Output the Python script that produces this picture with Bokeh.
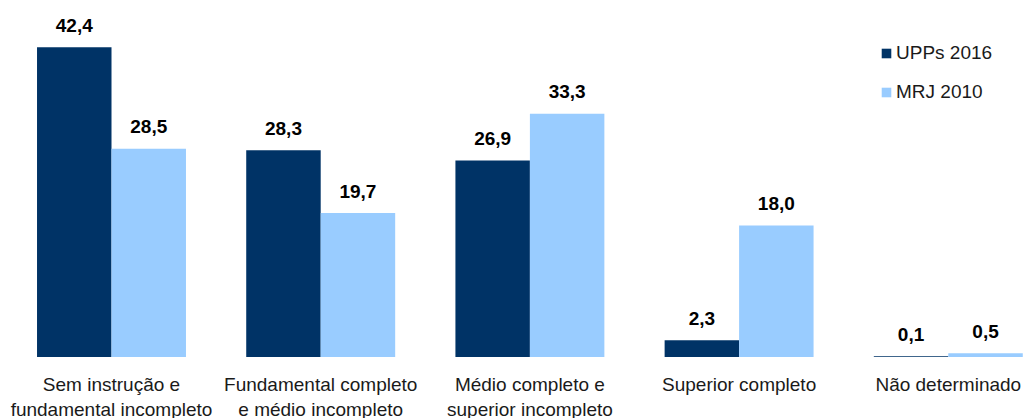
from bokeh.plotting import figure
from bokeh.models import ColumnDataSource, Legend, LegendItem, Range1d
from bokeh.core.properties import value
from bokeh.embed import file_html
from bokeh.resources import INLINE

categories = ["Sem instrução e\nfundamental incompleto",
              "Fundamental completo\ne médio incompleto",
              "Médio completo e\nsuperior incompleto",
              "Superior completo",
              "Não determinado"]
upps_2016 = [42.4, 28.3, 26.9, 2.3, 0.1]
mrj_2010 = [28.5, 19.7, 33.3, 18.0, 0.5]
series_names = ["UPPs 2016", "MRJ 2010"]
colors = ["#003366", "#99CCFF"]

FONT = "Liberation Sans"
W, H = 1027, 418
bw = 0.356

xs = list(range(len(categories)))
fmt = lambda v: f"{v:.1f}".replace(".", ",")

src1 = ColumnDataSource(dict(x=[i - bw / 2 for i in xs], top=upps_2016,
                             lab=[fmt(v) for v in upps_2016]))
src2 = ColumnDataSource(dict(x=[i + bw / 2 for i in xs], top=mrj_2010,
                             lab=[fmt(v) for v in mrj_2010]))
srcc = ColumnDataSource(dict(x=xs, y=[0] * len(xs), lab=categories))

p = figure(width=W, height=H, output_backend="svg", toolbar_location=None,
           x_range=Range1d(-0.5306, 4.3786), y_range=Range1d(-8.42, 48.79),
           min_border=0, outline_line_color=None)
p.xgrid.visible = False
p.ygrid.visible = False
p.axis.visible = False
p.background_fill_color = "white"
p.border_fill_color = "white"

r1 = p.vbar(x="x", top="top", bottom=0, width=bw, source=src1,
            fill_color=colors[0], line_color=None)
r2 = p.vbar(x="x", top="top", bottom=0, width=bw, source=src2,
            fill_color=colors[1], line_color=None)

for s in (src1, src2):
    p.text(x="x", y="top", text="lab", source=s, text_align="center",
           text_baseline="alphabetic", y_offset=-22,
           text_font=value(FONT), text_font_size="19px",
           text_font_style="bold", text_color="#000000")

p.text(x="x", y="y", text="lab", source=srcc, text_align="center",
       text_baseline="top", y_offset=17, text_line_height=1.2,
       text_font=value(FONT), text_font_size="19px", text_color="#1a1a1a")

legend = Legend(items=[LegendItem(label=series_names[0], renderers=[r1]),
                       LegendItem(label=series_names[1], renderers=[r2])],
                location=(880, 315), orientation="vertical",
                glyph_width=12, glyph_height=12, label_height=20,
                label_standoff=4, spacing=17, padding=0, margin=0,
                border_line_color=None, background_fill_alpha=0,
                label_text_font=FONT, label_text_font_size="19px",
                label_text_color="#1a1a1a")
p.add_layout(legend)

open("out.html", "w").write(file_html(p, INLINE))
